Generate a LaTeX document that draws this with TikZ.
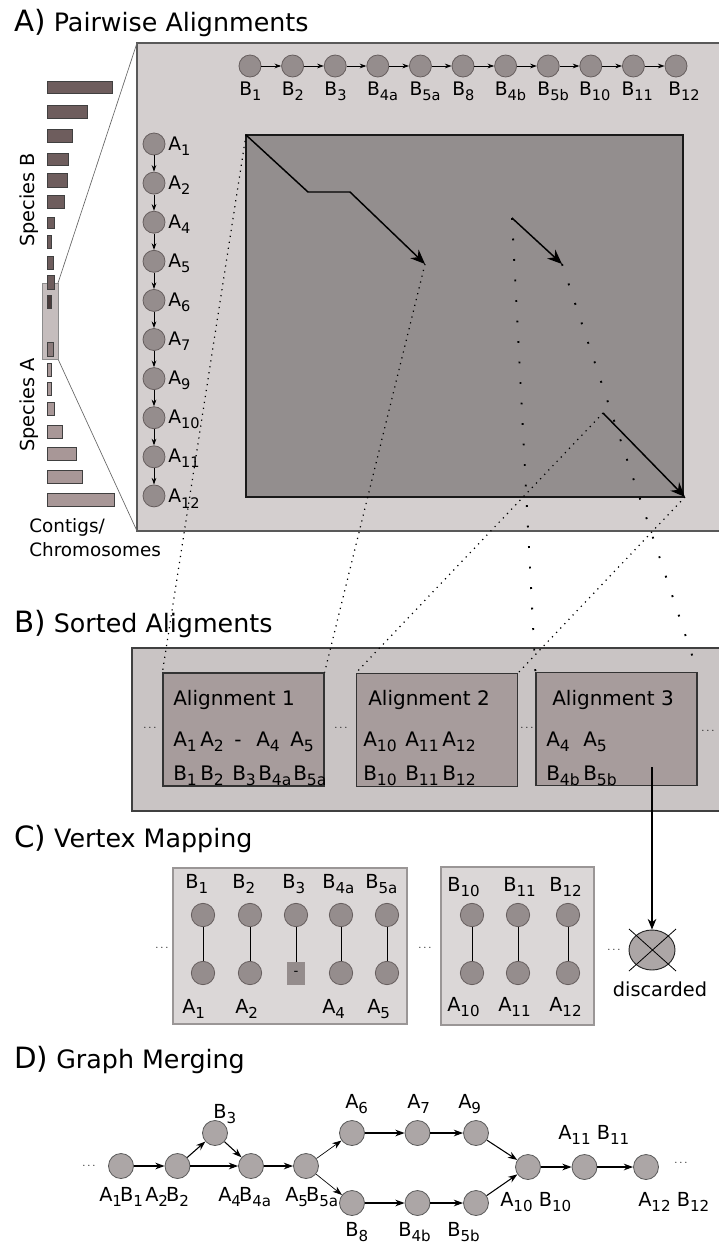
\documentclass[tikz,border=0pt]{standalone}
\usepackage{fontspec}
\setmainfont{DejaVu Sans}
\usetikzlibrary{arrows.meta,shapes.geometric}

\definecolor{panelA}{HTML}{D4CFCF}
\definecolor{matrixgray}{HTML}{938E8E}
\definecolor{chaincirc}{HTML}{958D8D}
\definecolor{chainedge}{HTML}{665E5E}
\definecolor{contigB}{HTML}{6E5D5D}
\definecolor{contigBdark}{HTML}{4A3C3C}
\definecolor{contigA}{HTML}{A89797}
\definecolor{contigAdark}{HTML}{8C7C7C}
\definecolor{zoomfill}{HTML}{C5BDBD}
\definecolor{panelB}{HTML}{C9C4C4}
\definecolor{alignfill}{HTML}{A79C9C}
\definecolor{panelC}{HTML}{DBD7D7}
\definecolor{panelCedge}{HTML}{9A9696}
\definecolor{mergecirc}{HTML}{ACA6A6}
\definecolor{gapfill}{HTML}{948C8C}

% letter with a large, low subscript
\newcommand{\vsub}[2]{#1\raisebox{-0.5ex}{\scalebox{0.78}{#2}}}

\tikzset{
  sectitle/.style={anchor=base west, inner sep=0pt, font=\fontsize{19}{22}\selectfont},
  chainnode/.style={circle, draw=chainedge, fill=chaincirc, line width=0.6pt, minimum size=16.5pt, inner sep=0pt},
  chainlbl/.style={anchor=base west, inner sep=0pt, font=\fontsize{14}{16}\selectfont},
  chainarr/.style={-{Stealth[length=5pt,width=3.5pt]}, line width=0.6pt},
  hitarr/.style={-{Stealth[length=11pt,width=9pt]}, line width=1.1pt},
  densedots/.style={dash pattern=on 0.9pt off 3.6pt, line width=0.9pt},
  sparsedots/.style={dash pattern=on 1.4pt off 14pt, line width=1.4pt},
  barB/.style={draw=black!75, fill=contigB, line width=0.6pt},
  barA/.style={draw=black!75, fill=contigA, line width=0.6pt},
  sidetext/.style={inner sep=0pt, font=\fontsize{14.5}{17}\selectfont},
  albox/.style={draw=black!80, fill=alignfill, line width=0.9pt, minimum width=120.75pt, minimum height=84.75pt, inner sep=0pt},
  altext/.style={anchor=base west, inner sep=0pt, font=\fontsize{15}{18}\selectfont},
  dotsnode/.style={inner sep=0pt, font=\fontsize{8}{9}\selectfont},
  mapbox/.style={draw=panelCedge, fill=panelC, line width=1.5pt},
  mapnode/.style={circle, draw=chainedge, fill=chaincirc, line width=0.6pt, minimum size=17.5pt, inner sep=0pt},
  gapbox/.style={rectangle, fill=gapfill, minimum width=13.5pt, minimum height=17pt, inner sep=0pt, font=\fontsize{10}{11}\selectfont},
  maplbl/.style={anchor=base west, inner sep=0pt, font=\fontsize{14.5}{17}\selectfont},
  mergenode/.style={circle, draw=black!65, fill=mergecirc, line width=0.6pt, minimum size=18.75pt, inner sep=0pt},
  mergelbl/.style={anchor=base west, inner sep=0pt, font=\fontsize{14.5}{17}\selectfont},
  mergearr/.style={-{Stealth[length=7pt,width=5pt]}, line width=0.8pt},
}

\begin{document}
\begin{tikzpicture}[x=0.75pt, y=-0.75pt]
\useasboundingbox (0,0) rectangle (718,1243);

% ---------- A) Pairwise alignments ----------
\node[sectitle] (ttlA) at (14,31) {{\fontsize{22}{25}\selectfont A)} Pairwise Alignments};

% Panel
\draw[fill=panelA, draw=black!65, line width=0.8pt] (137,43) rectangle (724,531);

% Zoom funnel and highlighted contigs
\coordinate (zt) at (58,283);
\coordinate (zb) at (58,359);
\coordinate (pt) at (137,43);
\coordinate (pb) at (137,531);
\draw[black!60, line width=0.5pt] (zt) -- (pt);
\draw[black!60, line width=0.5pt] (zb) -- (pb);
\draw[fill=zoomfill, draw=black!45, line width=0.7pt] (42,283) rectangle (58,359);

% Species B contigs
\draw[barB] (47,81) rectangle (112,93);
\draw[barB] (47,105) rectangle (87,118);
\draw[barB] (47,129) rectangle (72,142);
\draw[barB] (47,153) rectangle (68,165);
\draw[barB] (47,173) rectangle (67,187);
\draw[barB] (47,195) rectangle (64,208);
\draw[barB] (47,217) rectangle (54,228);
\draw[barB] (47,235) rectangle (51,248);
\draw[barB] (47,256) rectangle (53,269);
\draw[barB] (47,275) rectangle (54,289);
\draw[barB, fill=contigBdark] (47,295) rectangle (51,308);

% Species A contigs
\draw[barA, fill=contigAdark] (47,342) rectangle (53,356);
\draw[barA] (47,363) rectangle (51,376);
\draw[barA] (47,382) rectangle (51,395);
\draw[barA] (47,402) rectangle (54,415);
\draw[barA] (47,425) rectangle (62,438);
\draw[barA] (47,447) rectangle (76,460);
\draw[barA] (47,470) rectangle (82,483);
\draw[barA] (47,493) rectangle (114,506);

\node[sidetext, rotate=90] (spB) at (29,200) {Species B};
\node[sidetext, rotate=90] (spA) at (29,405) {Species A};
\node[sidetext, anchor=base west, font=\fontsize{13.8}{16}\selectfont] (ctg1) at (29,532) {Contigs/};
\node[sidetext, anchor=base west, font=\fontsize{13.8}{16}\selectfont] (ctg2) at (29,556) {Chromosomes};

% Dot matrix
\draw[fill=matrixgray, draw=black!90, line width=1.1pt] (246,135) rectangle (683,497);

% Species B chain
\node[chainnode] (B1) at (250,66) {};
\node[chainnode] (B2) at (292.6,66) {};
\node[chainnode] (B3) at (335.2,66) {};
\node[chainnode] (B4a) at (377.8,66) {};
\node[chainnode] (B5a) at (420.4,66) {};
\node[chainnode] (B8) at (463,66) {};
\node[chainnode] (B4b) at (505.6,66) {};
\node[chainnode] (B5b) at (548.2,66) {};
\node[chainnode] (B10) at (590.8,66) {};
\node[chainnode] (B11) at (633.4,66) {};
\node[chainnode] (B12) at (676,66) {};

\draw[chainarr] (B1) -- (B2);
\draw[chainarr] (B2) -- (B3);
\draw[chainarr] (B3) -- (B4a);
\draw[chainarr] (B4a) -- (B5a);
\draw[chainarr] (B5a) -- (B8);
\draw[chainarr] (B8) -- (B4b);
\draw[chainarr] (B4b) -- (B5b);
\draw[chainarr] (B5b) -- (B10);
\draw[chainarr] (B10) -- (B11);
\draw[chainarr] (B11) -- (B12);

\node[chainlbl] (lB1) at (239,95) {\vsub{B}{1}};
\node[chainlbl] (lB2) at (281.6,95) {\vsub{B}{2}};
\node[chainlbl] (lB3) at (324.2,95) {\vsub{B}{3}};
\node[chainlbl] (lB4a) at (366.8,95) {\vsub{B}{4a}};
\node[chainlbl] (lB5a) at (409.4,95) {\vsub{B}{5a}};
\node[chainlbl] (lB8) at (452,95) {\vsub{B}{8}};
\node[chainlbl] (lB4b) at (494.6,95) {\vsub{B}{4b}};
\node[chainlbl] (lB5b) at (537.2,95) {\vsub{B}{5b}};
\node[chainlbl] (lB10) at (578.8,95) {\vsub{B}{10}};
\node[chainlbl] (lB11) at (621.4,95) {\vsub{B}{11}};
\node[chainlbl] (lB12) at (668,95) {\vsub{B}{12}};

% Species A chain
\node[chainnode] (A1) at (154,144) {};
\node[chainnode] (A2) at (154,183.1) {};
\node[chainnode] (A4) at (154,222.2) {};
\node[chainnode] (A5) at (154,261.3) {};
\node[chainnode] (A6) at (154,300.4) {};
\node[chainnode] (A7) at (154,339.5) {};
\node[chainnode] (A9) at (154,378.6) {};
\node[chainnode] (A10) at (154,417.7) {};
\node[chainnode] (A11) at (154,456.8) {};
\node[chainnode] (A12) at (154,495.9) {};

\draw[chainarr] (A1) -- (A2);
\draw[chainarr] (A2) -- (A4);
\draw[chainarr] (A4) -- (A5);
\draw[chainarr] (A5) -- (A6);
\draw[chainarr] (A6) -- (A7);
\draw[chainarr] (A7) -- (A9);
\draw[chainarr] (A9) -- (A10);
\draw[chainarr] (A10) -- (A11);
\draw[chainarr] (A11) -- (A12);

\node[chainlbl] (lA1) at (168,150) {\vsub{A}{1}};
\node[chainlbl] (lA2) at (168,189.1) {\vsub{A}{2}};
\node[chainlbl] (lA4) at (168,228.2) {\vsub{A}{4}};
\node[chainlbl] (lA5) at (168,267.3) {\vsub{A}{5}};
\node[chainlbl] (lA6) at (168,306.4) {\vsub{A}{6}};
\node[chainlbl] (lA7) at (168,345.5) {\vsub{A}{7}};
\node[chainlbl] (lA9) at (168,384.6) {\vsub{A}{9}};
\node[chainlbl] (lA10) at (168,423.7) {\vsub{A}{10}};
\node[chainlbl] (lA11) at (168,462.8) {\vsub{A}{11}};
\node[chainlbl] (lA12) at (168,502.9) {\vsub{A}{12}};

% Alignment hits in the matrix
\coordinate (r1s) at (246,135);
\coordinate (r1a) at (308,192);
\coordinate (r1b) at (350,192);
\coordinate (r1e) at (425,264);
\coordinate (r2s) at (512,218);
\coordinate (r2e) at (562,264);
\coordinate (r3s) at (603,413);
\coordinate (r3e) at (685,497);
\draw[hitarr] (r1s) -- (r1a) -- (r1b) -- (r1e);
\draw[hitarr] (r2s) -- (r2e);
\draw[hitarr] (r3s) -- (r3e);

% ---------- B) Sorted alignments ----------
\node[sectitle] (ttlB) at (14,632) {{\fontsize{22}{25}\selectfont B)} Sorted Aligments};

\draw[fill=panelB, draw=black!75, line width=0.8pt] (132,648) rectangle (724,811);

\node[albox] (al1) at (243.5,729.5) {};
\node[albox] (al2) at (437,730) {};
\node[albox] (al3) at (616.5,729) {};

\node[dotsnode] (bd1) at (150,728) {$\cdots$};
\node[dotsnode] (bd2) at (341,728) {$\cdots$};
\node[dotsnode] (bd3) at (527,728) {$\cdots$};
\node[dotsnode] (bd4) at (708,731) {$\cdots$};

% Alignment 1
\node[altext] (al1t) at (173,705) {Alignment 1};
\node[altext] (al1a1) at (173,746) {\vsub{A}{1}};
\node[altext] (al1a2) at (200,746) {\vsub{A}{2}};
\node[altext] (al1a3) at (234,746) {-};
\node[altext] (al1a4) at (256,746) {\vsub{A}{4}};
\node[altext] (al1a5) at (290,746) {\vsub{A}{5}};
\node[altext] (al1b1) at (173,780) {\vsub{B}{1}};
\node[altext] (al1b2) at (200,780) {\vsub{B}{2}};
\node[altext] (al1b3) at (232,780) {\vsub{B}{3}};
\node[altext] (al1b4) at (258,780) {\vsub{B}{4a}};
\node[altext] (al1b5) at (293,780) {\vsub{B}{5a}};

% Alignment 2
\node[altext] (al2t) at (368,705) {Alignment 2};
\node[altext] (al2a1) at (363,746) {\vsub{A}{10}};
\node[altext] (al2a2) at (405,746) {\vsub{A}{11}};
\node[altext] (al2a3) at (442,746) {\vsub{A}{12}};
\node[altext] (al2b1) at (363,780) {\vsub{B}{10}};
\node[altext] (al2b2) at (405,780) {\vsub{B}{11}};
\node[altext] (al2b3) at (442,780) {\vsub{B}{12}};

% Alignment 3
\node[altext] (al3t) at (552,705) {Alignment 3};
\node[altext] (al3a1) at (546,746) {\vsub{A}{4}};
\node[altext] (al3a2) at (583,746) {\vsub{A}{5}};
\node[altext] (al3b1) at (546,780) {\vsub{B}{4b}};
\node[altext] (al3b2) at (583,780) {\vsub{B}{5b}};

% Hits to sorted alignments
\draw[densedots] (r1s) -- (al1.north west);
\draw[densedots] (r1e) -- (al1.north east);
\draw[densedots] (r3s) -- (al2.north west);
\draw[densedots] (r3e) -- (al2.north east);
\draw[sparsedots] (r2s) -- (al3.north west);
\draw[sparsedots] (r2e) -- (al3.north east);

% ---------- C) Vertex mapping ----------
\node[sectitle] (ttlC) at (14,847) {{\fontsize{22}{25}\selectfont C)} Vertex Mapping};

\draw[mapbox] (173,868) rectangle (407,1024);
\draw[mapbox] (441,867) rectangle (594,1025);

\node[dotsnode] (cd1) at (162,948) {$\cdots$};
\node[dotsnode] (cd2) at (425,948) {$\cdots$};
\node[dotsnode] (cd3) at (614,950) {$\cdots$};

% Block 1
\node[mapnode] (cb1) at (203,915) {};
\node[mapnode] (cb2) at (250,915) {};
\node[mapnode] (cb3) at (296,915) {};
\node[mapnode] (cb4) at (341,915) {};
\node[mapnode] (cb5) at (387,915) {};
\node[mapnode] (ca1) at (203,973) {};
\node[mapnode] (ca2) at (250,973) {};
\node[gapbox] (ca3) at (296,973.5) {-};
\node[mapnode] (ca4) at (341,973) {};
\node[mapnode] (ca5) at (387,973) {};
\draw[line width=0.7pt] (cb1) -- (ca1);
\draw[line width=0.7pt] (cb2) -- (ca2);
\draw[line width=0.7pt] (cb3) -- (ca3);
\draw[line width=0.7pt] (cb4) -- (ca4);
\draw[line width=0.7pt] (cb5) -- (ca5);

\node[maplbl] (lcb1) at (185,888) {\vsub{B}{1}};
\node[maplbl] (lcb2) at (232,888) {\vsub{B}{2}};
\node[maplbl] (lcb3) at (282,888) {\vsub{B}{3}};
\node[maplbl] (lcb4) at (322,888) {\vsub{B}{4a}};
\node[maplbl] (lcb5) at (365,888) {\vsub{B}{5a}};
\node[maplbl] (lca1) at (182,1013) {\vsub{A}{1}};
\node[maplbl] (lca2) at (235,1013) {\vsub{A}{2}};
\node[maplbl] (lca4) at (322,1013) {\vsub{A}{4}};
\node[maplbl] (lca5) at (367,1013) {\vsub{A}{5}};

% Block 2
\node[mapnode] (cb10) at (472,915) {};
\node[mapnode] (cb11) at (518,915) {};
\node[mapnode] (cb12) at (568,915) {};
\node[mapnode] (ca10) at (472,973) {};
\node[mapnode] (ca11) at (518,973) {};
\node[mapnode] (ca12) at (568,973) {};
\draw[line width=0.7pt] (cb10) -- (ca10);
\draw[line width=0.7pt] (cb11) -- (ca11);
\draw[line width=0.7pt] (cb12) -- (ca12);

\node[maplbl] (lcb10) at (447,891) {\vsub{B}{10}};
\node[maplbl] (lcb11) at (503,891) {\vsub{B}{11}};
\node[maplbl] (lcb12) at (549,891) {\vsub{B}{12}};
\node[maplbl] (lca10) at (447,1011) {\vsub{A}{10}};
\node[maplbl] (lca11) at (498,1011) {\vsub{A}{11}};
\node[maplbl] (lca12) at (549,1011) {\vsub{A}{12}};

% Discarded alignment
\coordinate (dsrc) at (652,767);
\node[ellipse, draw=black!85, fill=mergecirc, line width=0.7pt, minimum width=34.5pt, minimum height=30pt, inner sep=0pt] (disc) at (652,950) {};
\draw[-{Stealth[length=8pt,width=6.5pt]}, line width=0.8pt] (dsrc) -- (disc);
\draw[line width=0.6pt] (629,929) -- (676,971);
\draw[line width=0.6pt] (676,929) -- (629,971);
\node[sidetext, anchor=base] (disct) at (660,996) {discarded};

% ---------- D) Graph merging ----------
\node[sectitle] (ttlD) at (14,1068) {{\fontsize{22}{25}\selectfont D)} Graph Merging};

\node[mergenode] (m1) at (121,1166) {};
\node[mergenode] (m2) at (177.5,1166) {};
\node[mergenode] (m3) at (215,1133) {};
\node[mergenode] (m4) at (251,1166) {};
\node[mergenode] (m5) at (306,1166) {};
\node[mergenode] (m6) at (352,1133) {};
\node[mergenode] (m7) at (417.5,1133) {};
\node[mergenode] (m9) at (476,1133) {};
\node[mergenode] (m8) at (352,1203) {};
\node[mergenode] (m4b) at (417.5,1203) {};
\node[mergenode] (m5b) at (476,1203) {};
\node[mergenode] (m10) at (528,1167) {};
\node[mergenode] (m11) at (584.5,1167) {};
\node[mergenode] (m12) at (646,1167) {};

\node[dotsnode] (dd1) at (89,1166) {$\cdots$};
\node[dotsnode] (dd2) at (681,1163) {$\cdots$};

\draw[mergearr] (m1) -- (m2);
\draw[mergearr] (m2) -- (m3);
\draw[mergearr] (m3) -- (m4);
\draw[mergearr] (m2) -- (m4);
\draw[mergearr] (m4) -- (m5);
\draw[mergearr, line width=0.5pt] (m5) -- (m6);
\draw[mergearr, line width=0.5pt] (m5) -- (m8);
\draw[mergearr] (m6) -- (m7);
\draw[mergearr] (m7) -- (m9);
\draw[mergearr] (m8) -- (m4b);
\draw[mergearr] (m4b) -- (m5b);
\draw[mergearr] (m9) -- (m10);
\draw[mergearr] (m5b) -- (m10);
\draw[mergearr] (m10) -- (m11);
\draw[mergearr] (m11) -- (m12);

\node[mergelbl] (lm1) at (99,1201) {\vsub{A}{1}\kern-1.5pt\vsub{B}{1}};
\node[mergelbl] (lm2) at (145,1201) {\vsub{A}{2}\kern-1.5pt\vsub{B}{2}};
\node[mergelbl] (lm3) at (213,1118) {\vsub{B}{3}};
\node[mergelbl] (lm4) at (218,1201) {\vsub{A}{4}\kern-1.5pt\vsub{B}{4a}};
\node[mergelbl] (lm5) at (285,1201) {\vsub{A}{5}\kern-1.5pt\vsub{B}{5a}};
\node[mergelbl] (lm6) at (345,1108) {\vsub{A}{6}};
\node[mergelbl] (lm7) at (407,1108) {\vsub{A}{7}};
\node[mergelbl] (lm9) at (458,1108) {\vsub{A}{9}};
\node[mergelbl] (lm8) at (345,1236) {\vsub{B}{8}};
\node[mergelbl] (lm4b) at (398,1236) {\vsub{B}{4b}};
\node[mergelbl] (lm5b) at (447,1236) {\vsub{B}{5b}};
\node[mergelbl] (lm10) at (500,1206) {\vsub{A}{10} \vsub{B}{10}};
\node[mergelbl] (lm11) at (558,1139) {\vsub{A}{11} \vsub{B}{11}};
\node[mergelbl] (lm12) at (638,1206) {\vsub{A}{12} \vsub{B}{12}};
\end{tikzpicture}
\end{document}
